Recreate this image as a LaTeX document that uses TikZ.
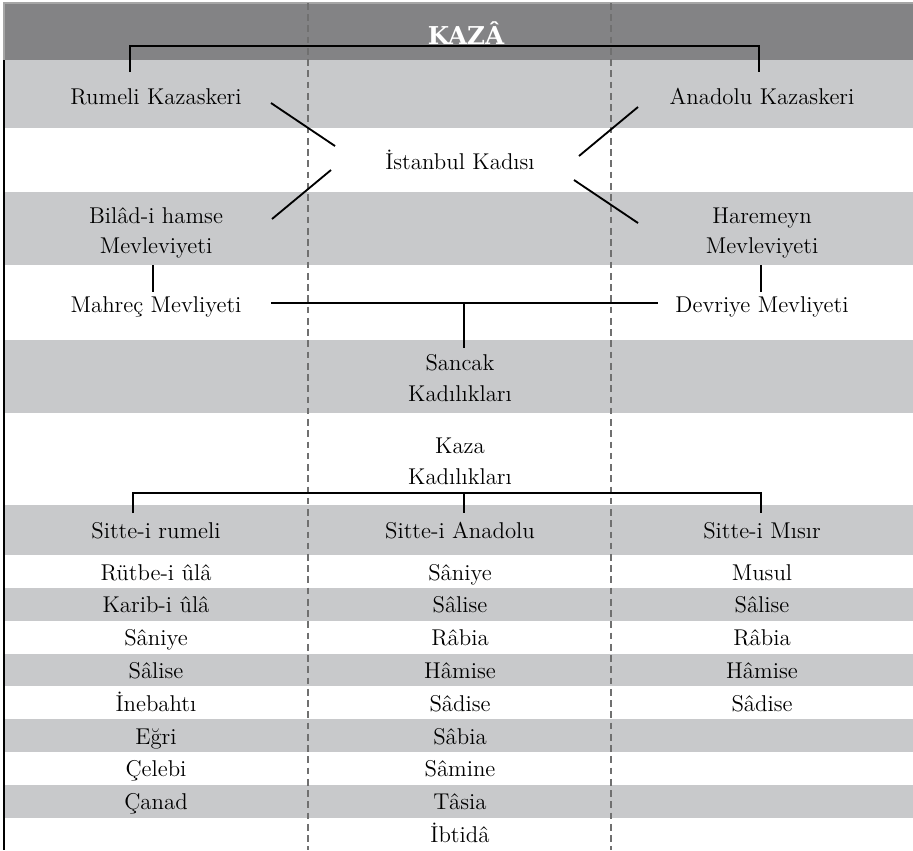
\documentclass[tikz,border=0pt]{standalone}
\usepackage{fontspec}
\newfontfamily\headfont{DejaVu Serif}
\usetikzlibrary{calc}
\definecolor{headgray}{RGB}{131,131,133}
\definecolor{bandgray}{RGB}{200,201,203}
\definecolor{rulegray}{RGB}{112,112,112}
\begin{document}
\begin{tikzpicture}
	% one unit is one pixel of the page, y runs downwards
	[x=0.02cm, y=-0.02cm,
	bands/.style={fill=bandgray, draw=none},
	cols/.style={rulegray, dash pattern=on 3.8pt off 2.6pt, line width=0.75pt},
	lbl/.style={font=\fontsize{13}{17.5}\selectfont, align=center, inner sep=0pt},
	conn/.style={black, line width=1.05pt}]

	\useasboundingbox (0,0) rectangle (913,850);

	% First the grey bands
	\fill[headgray] (4,3) rectangle (913,60);
	\foreach \top/\bot in {60/128, 192/265, 340/413, 505/555, 588/621, 654/686, 719/752, 785/818}
		\fill[bands] (4,\top) rectangle (913,\bot);

	% the frame on the left and on top
	\draw[black!35, line width=0.6pt] (4,60) -- (4,3) -- (913,3);
	\draw[black, line width=0.7pt] (4,60) -- (4,850);

	% dashed column separators
	\foreach \x in {308, 611}
		\draw[cols] (\x,3) -- (\x,850);

	% Title
	\node[font=\headfont\fontsize{14}{15}\selectfont\bfseries, text=white, inner sep=0pt] (kaza) at (466,33) {KAZÂ};

	% upper part of the hierarchy
	\node[lbl, anchor=base] (rum) at (156,104) {Rumeli Kazaskeri};
	\node[lbl, anchor=base] (ana) at (762,104) {Anadolu Kazaskeri};
	\node[lbl, anchor=base] (ist) at (460,169) {İstanbul Kadısı};
	\node[lbl] (bil) at (156,233) {Bilâd-i hamse\\Mevleviyeti};
	\node[lbl] (har) at (762,233) {Haremeyn\\Mevleviyeti};
	\node[lbl, anchor=base] (mah) at (156,312) {Mahreç Mevliyeti};
	\node[lbl, anchor=base] (dev) at (762,312) {Devriye Mevliyeti};
	\node[lbl] (san) at (460,378) {Sancak\\Kadılıkları};
	\node[lbl] (kad) at (460,461) {Kaza\\Kadılıkları};

	% the three groups
	\node[lbl, anchor=base] (sru) at (156,538) {Sitte-i rumeli};
	\node[lbl, anchor=base] (san2) at (460,538) {Sitte-i Anadolu};
	\node[lbl, anchor=base] (smi) at (762,538) {Sitte-i Mısır};

	% and their ranks
	\foreach \t [count=\i] in {Rütbe-i ûlâ, Karib-i ûlâ, Sâniye, Sâlise, İnebahtı, Eğri, Çelebi, Çanad}
		\node[lbl, anchor=base] (ru\i) at (156,{547.2+32.8*\i}) {\t};
	\foreach \t [count=\i] in {Sâniye, Sâlise, Râbia, Hâmise, Sâdise, Sâbia, Sâmine, Tâsia, İbtidâ}
		\node[lbl, anchor=base] (an\i) at (460,{547.2+32.8*\i}) {\t};
	\foreach \t [count=\i] in {Musul, Sâlise, Râbia, Hâmise, Sâdise}
		\node[lbl, anchor=base] (mi\i) at (762,{547.2+32.8*\i}) {\t};

	% Now the connectors
	\draw[conn] ($(rum.base)+(-26,-32)$) |- ($(kaza)+(-6,13)$) -| ($(ana.base)+(-3,-32)$);
	\draw[conn] ($(rum.base)+(115,-1)$) -- ($(ist.base)+(-125,-23)$);
	\draw[conn] ($(bil)+(116,-14)$) -- ($(ist.base)+(-129,1)$);
	\draw[conn] ($(ana.base)+(-124,3)$) -- ($(ist.base)+(119,-13)$);
	\draw[conn] ($(har)+(-124,-10)$) -- ($(ist.base)+(114,11)$);
	\draw[conn] ($(bil)+(-3,32)$) -- ($(mah.base)+(-3,-20)$);
	\draw[conn] ($(har)+(-1,32)$) -- ($(dev.base)+(-1,-20)$);
	\draw[conn] ($(mah.base)+(115,-9)$) -- ($(dev.base)+(-104,-9)$);
	\draw[conn] ($(san)+(4,-75)$) -- ($(san)+(4,-30)$);
	% lower bracket
	\draw[conn] ($(sru.base)+(-23,-25)$) |- ($(kad)+(0,32)$) -| ($(smi.base)+(-1,-25)$);
	\draw[conn] ($(kad)+(4,32)$) -- ($(san2.base)+(4,-25)$);
\end{tikzpicture}
\end{document}
